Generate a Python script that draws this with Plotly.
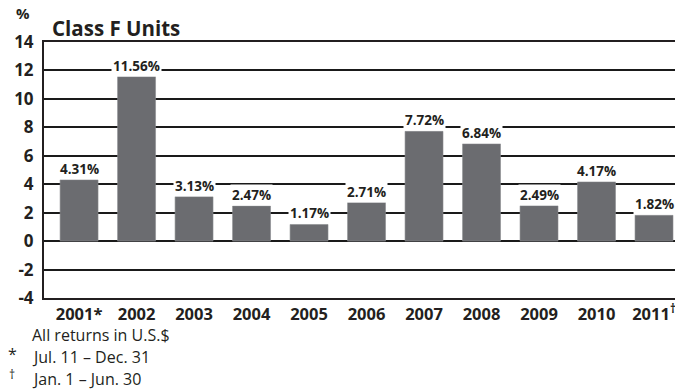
import plotly.graph_objects as go

categories = ["2001*", "2002", "2003", "2004", "2005", "2006", "2007", "2008", "2009", "2010", "2011<sup>†</sup>"]
returns = [4.31, 11.56, 3.13, 2.47, 1.17, 2.71, 7.72, 6.84, 2.49, 4.17, 1.82]
y_ticks = [-4, -2, 0, 2, 4, 6, 8, 10, 12, 14]
title_text = "Class F Units"
footnotes = [("", "All returns in U.S.$"), ("*", "Jul. 11 – Dec. 31"), ("†", "Jan. 1 – Jun. 30")]

W, H = 675, 391
L, R, T, B = 44, 0, 42, 93
pw, ph = W - L - R, H - T - B

FONT = "Open Sans"
DARK = "#231f20"
BAR = "#6b6c70"

fig = go.Figure()
fig.add_trace(go.Bar(
    x=list(range(len(categories))), y=returns, width=0.66,
    marker=dict(color=BAR, line=dict(color="#8a8b8e", width=0.6)),
    hoverinfo="skip",
))

ann = []
for i, v in enumerate(returns):
    ann.append(dict(x=i, y=v, xref="x", yref="y", text=f"<b>{v:.2f}%</b>",
                    showarrow=False, yanchor="bottom", yshift=0,
                    bgcolor="white", borderpad=1,
                    font=dict(family=FONT, size=13.5, color=DARK)))

def px_to_paper_x(px):
    return (px - L) / pw

def px_to_paper_y(py):
    return (T + ph - py) / ph

ann.append(dict(x=px_to_paper_x(50), y=px_to_paper_y(28), xref="paper", yref="paper",
                text=f"<b>{title_text}</b>", showarrow=False, xanchor="left", yanchor="middle",
                font=dict(family=FONT, size=20.5, color=DARK)))
ann.append(dict(x=px_to_paper_x(23), y=px_to_paper_y(13), xref="paper", yref="paper",
                text="<b>%</b>", showarrow=False, xanchor="center", yanchor="middle",
                font=dict(family=FONT, size=15, color=DARK)))

foot_y = [335, 357, 379]
for (sym, txt), fy in zip(footnotes, foot_y):
    ann.append(dict(x=px_to_paper_x(30), y=px_to_paper_y(fy), xref="paper", yref="paper",
                    text=txt, showarrow=False, xanchor="left", yanchor="middle",
                    font=dict(family=FONT, size=16, color=DARK)))
    if sym:
        ann.append(dict(x=px_to_paper_x(12), y=px_to_paper_y(fy - (3 if sym == "*" else 5)), xref="paper", yref="paper",
                        text=sym, showarrow=False, xanchor="center", yanchor="middle",
                        font=dict(family=FONT, size=16 if sym == "*" else 12, color=DARK)))

fig.update_layout(
    width=W, height=H,
    margin=dict(l=L, r=R, t=T, b=B, pad=0),
    plot_bgcolor="white", paper_bgcolor="white",
    showlegend=False,
    annotations=ann,
    bargap=0.3,
)
fig.update_xaxes(
    range=[-0.61, len(categories) - 0.635],
    tickmode="array", tickvals=list(range(len(categories))),
    ticktext=[f"<b>{c}</b>" for c in categories],
    tickfont=dict(family=FONT, size=16.5, color=DARK),
    showgrid=False, showline=True, linecolor=DARK, linewidth=2, mirror=True,
    ticks="", ticklabelstandoff=0, ticklabeloverflow="allow",
)
fig.update_yaxes(
    range=[-4, 14], tickmode="array", tickvals=y_ticks,
    ticktext=[f"<b>{t}</b>" for t in y_ticks],
    tickfont=dict(family=FONT, size=17, color=DARK),
    showgrid=True, gridcolor="#1a1a1a", gridwidth=2,
    zeroline=True, zerolinecolor="#1a1a1a", zerolinewidth=2,
    showline=True, linecolor=DARK, linewidth=2,
    ticks="", ticklabelstandoff=5,
)

fig.write_html("out.html")
